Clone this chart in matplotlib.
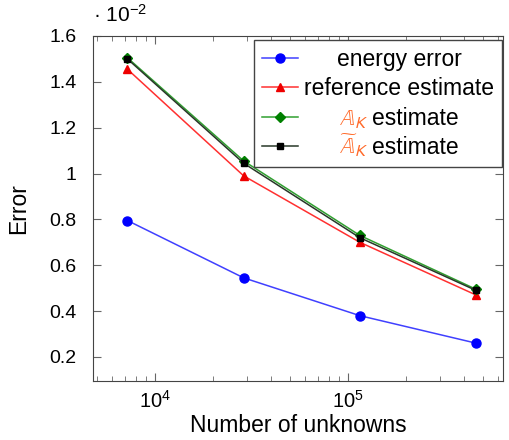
import numpy as np
import matplotlib
matplotlib.use('Agg')
import matplotlib.pyplot as plt
from matplotlib.ticker import LogLocator, NullFormatter, FixedLocator, FuncFormatter
from matplotlib.transforms import IdentityTransform

plt.rcParams['font.family'] = ['Liberation Sans', 'DejaVu Sans']
plt.rcParams['mathtext.fontset'] = 'stixsans'

# data (errors in units of 1e-2)
dofs = [7200, 28800, 115200, 460800]
energy_error = [0.795, 0.545, 0.38, 0.26]
reference_est = [1.455, 0.99, 0.70, 0.47]
ak_est = [1.505, 1.055, 0.73, 0.495]
ak_tilde_est = [1.50, 1.045, 0.72, 0.49]

orange = '#ff6a2a'
labels = ['energy error', 'reference estimate',
          r'$\mathbb{A}_K$ estimate', r'$\widetilde{\mathbb{A}}_K$ estimate']
math_parts = [None, None, r'$\mathbb{A}_K$', r'$\widetilde{\mathbb{A}}_K$']

fig = plt.figure(figsize=(5.09, 4.40), dpi=100)
ax = fig.add_axes([93 / 509, 59 / 440, 410 / 509, 345 / 440])

ax.plot(dofs, energy_error, color='#4040ff', lw=1.1, marker='o', ms=6.5,
        mfc='#0000ff', mec='#0000ff', label=labels[0])
ax.plot(dofs, reference_est, color='#ff3030', lw=1.1, marker='^', ms=6,
        mfc='#ee0000', mec='#ee0000', label=labels[1])
ax.plot(dofs, ak_est, color='#30a030', lw=1.1, marker='D', ms=5,
        mfc='#008000', mec='#008000', label=labels[2])
ax.plot(dofs, ak_tilde_est, color='#283828', lw=1.1, marker='s', ms=5,
        mfc='black', mec='black', label=labels[3])

ax.set_xscale('log')
ax.set_xlim(4775, 6.35e5)
ax.set_ylim(0.095, 1.6)
ax.xaxis.set_major_formatter(FuncFormatter(
    lambda v, _: '10$^{\\mathregular{%d}}$' % round(np.log10(v))))
ax.yaxis.set_major_locator(FixedLocator([0.2, 0.4, 0.6, 0.8, 1.0, 1.2, 1.4, 1.6]))
ax.set_yticklabels(['0.2', '0.4', '0.6', '0.8', '1', '1.2', '1.4', '1.6'])
ax.xaxis.set_minor_locator(LogLocator(base=10, subs=np.arange(2, 10)))
ax.xaxis.set_minor_formatter(NullFormatter())
ax.tick_params(which='both', direction='in', top=True, right=True,
               labelsize=14, color='#666666')
ax.tick_params(which='major', length=6)
ax.tick_params(which='minor', length=3.5)
ax.tick_params(axis='x', pad=7, labelsize=14.5)
ax.tick_params(axis='y', pad=12)
for s in ax.spines.values():
    s.set_color('#444444')

ax.set_xlabel('Number of unknowns', fontsize=16.5, labelpad=1)
ax.set_ylabel('Error', fontsize=16.5, labelpad=14)
ax.text(0.0, 1.03, '\u00b7 10$^{\\mathregular{\u2212 2}}$', transform=ax.transAxes,
        fontsize=15, ha='left', va='bottom')

leg = ax.legend(loc='upper right', bbox_to_anchor=(0.9976, 0.988),
                fontsize=16.5, frameon=True, fancybox=False, framealpha=1,
                edgecolor='#444444', handlelength=1.6, borderpad=0.35,
                labelspacing=0.27, handletextpad=0.25, borderaxespad=0)
leg.get_frame().set_linewidth(1.0)

# centre the legend labels; the math part is drawn separately in orange
fig.canvas.draw()
r = fig.canvas.get_renderer()
texts = leg.get_texts()
widths = [t.get_window_extent(r).width for t in texts]
wmax = max(widths)
shifts = []
for t, w, mp in zip(texts, widths, math_parts):
    off = (wmax - w) / 2
    if mp is not None:
        t.set_text('estimate')
        we = t.get_window_extent(r).width
        shifts.append(w - we)
        off += w - we
    else:
        shifts.append(0)
    t.set_position((off, 0))
fig.canvas.draw()

for t, mp, sh in zip(texts, math_parts, shifts):
    if mp is None:
        continue
    x, y = t.get_transform().transform(t.get_position())
    fig.text(x - sh, y, mp, color=orange, fontsize=16.5, ha='left',
             va='baseline', transform=IdentityTransform())

fig.savefig('out.png', dpi=100)
